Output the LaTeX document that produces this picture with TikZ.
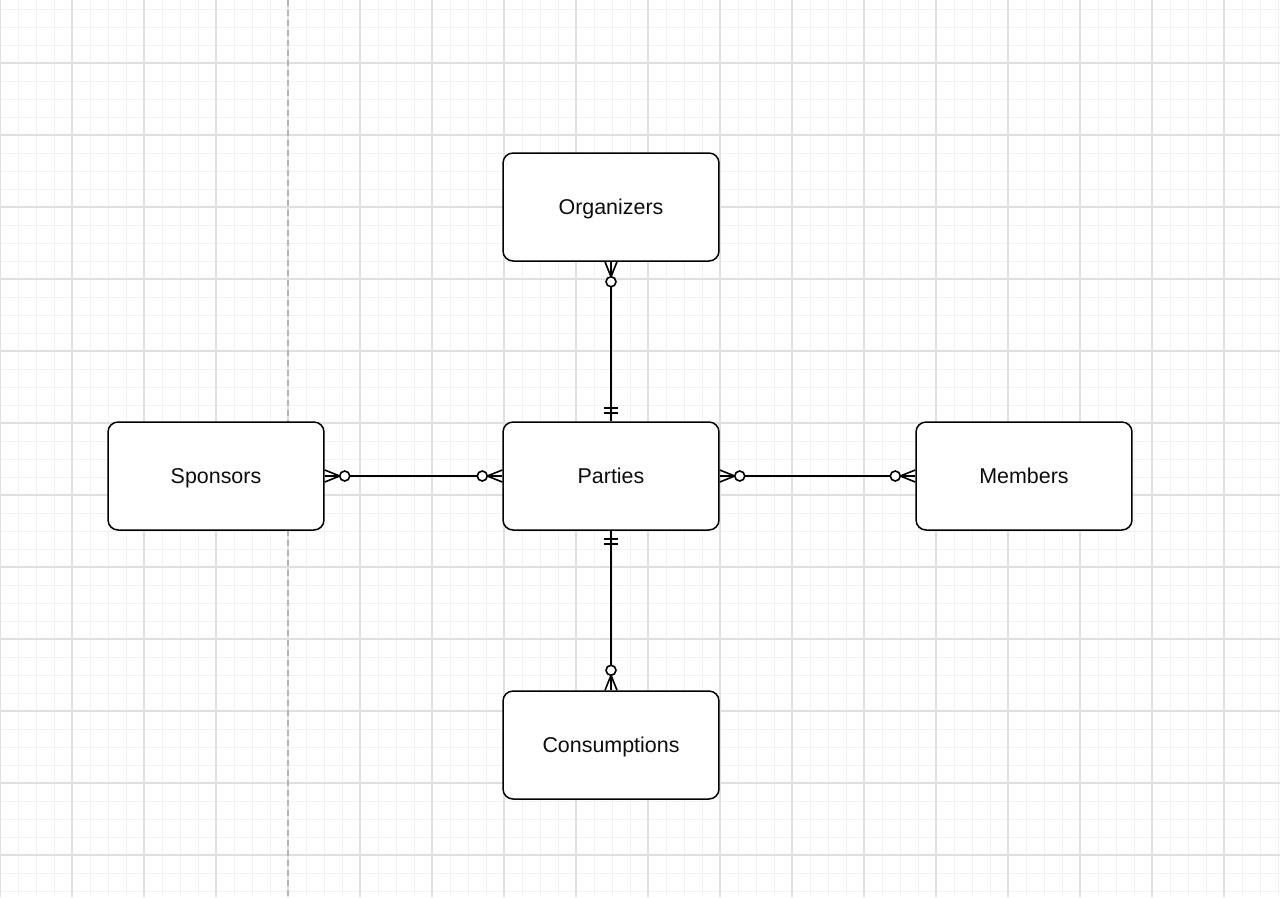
\documentclass[tikz,border=0pt]{standalone}
\usepackage{fontspec}
\setmainfont{Liberation Sans}
\usetikzlibrary{calc}
\definecolor{minorg}{HTML}{F2F2F2}
\definecolor{majorg}{HTML}{E0E0E0}
\definecolor{dashg}{HTML}{B4B4B4}
\tikzset{
  entity/.style={draw=black, line width=0.03cm, rounded corners=0.2cm, fill=white,
    minimum width=4.32cm, minimum height=2.16cm, inner sep=0pt,
    text height=0.82em, text depth=0pt,
    font=\fontsize{12.2}{14}\selectfont, text=black!95},
  conn/.style={draw=black, line width=0.032cm},
}
% zero-or-many end: anchor, direction (dx,dy) away from box
\newcommand{\zeromany}[3]{%
  \draw[conn] ($(#1)+6*(#3,#2)$) -- ($(#1)+15*(#2,#3)$) -- ($(#1)-6*(#3,#2)$);
  \draw[conn,fill=white] ($(#1)+20*(#2,#3)$) circle (5);
}
% one-and-only-one end
\newcommand{\oneone}[3]{%
  \draw[conn] ($(#1)+8*(#2,#3)+7*(#3,#2)$) -- ($(#1)+8*(#2,#3)-7*(#3,#2)$);
  \draw[conn] ($(#1)+13*(#2,#3)+7*(#3,#2)$) -- ($(#1)+13*(#2,#3)-7*(#3,#2)$);
}
\begin{document}
\begin{tikzpicture}[x=0.02cm,y=-0.02cm]
\useasboundingbox (0,0) rectangle (1280,897);
\fill[white] (0,0) rectangle (1280,897);
% minor grid
\foreach \i in {0,...,71} { \draw[minorg, line width=0.02cm] (\i*18,0) -- (\i*18,897); }
\foreach \j in {0,...,50} { \draw[minorg, line width=0.02cm] (0,\j*18+9) -- (1280,\j*18+9); }
% major grid
\foreach \i in {0,...,18} { \draw[majorg, line width=0.025cm] (\i*72,0) -- (\i*72,897); }
\foreach \j in {0,...,12} { \draw[majorg, line width=0.025cm] (0,\j*72-9) -- (1280,\j*72-9); }
% dashed page break
\draw[dashg, line width=0.025cm, dash pattern=on 0.12cm off 0.08cm] (288,0) -- (288,897);

\node[entity] (org) at (611,207) {Organizers};
\node[entity] (par) at (611,476) {Parties};
\node[entity] (spo) at (216,476) {Sponsors};
\node[entity] (mem) at (1024,476) {Members};
\node[entity] (con) at (611,745) {Consumptions};

\draw[conn] (org) -- (par);
\draw[conn] (spo) -- (par);
\draw[conn] (par) -- (mem);
\draw[conn] (par) -- (con);

\zeromany{org.south}{0}{1}
\oneone{par.north}{0}{-1}
\zeromany{spo.east}{1}{0}
\zeromany{par.west}{-1}{0}
\zeromany{par.east}{1}{0}
\zeromany{mem.west}{-1}{0}
\oneone{par.south}{0}{1}
\zeromany{con.north}{0}{-1}
\end{tikzpicture}
\end{document}
